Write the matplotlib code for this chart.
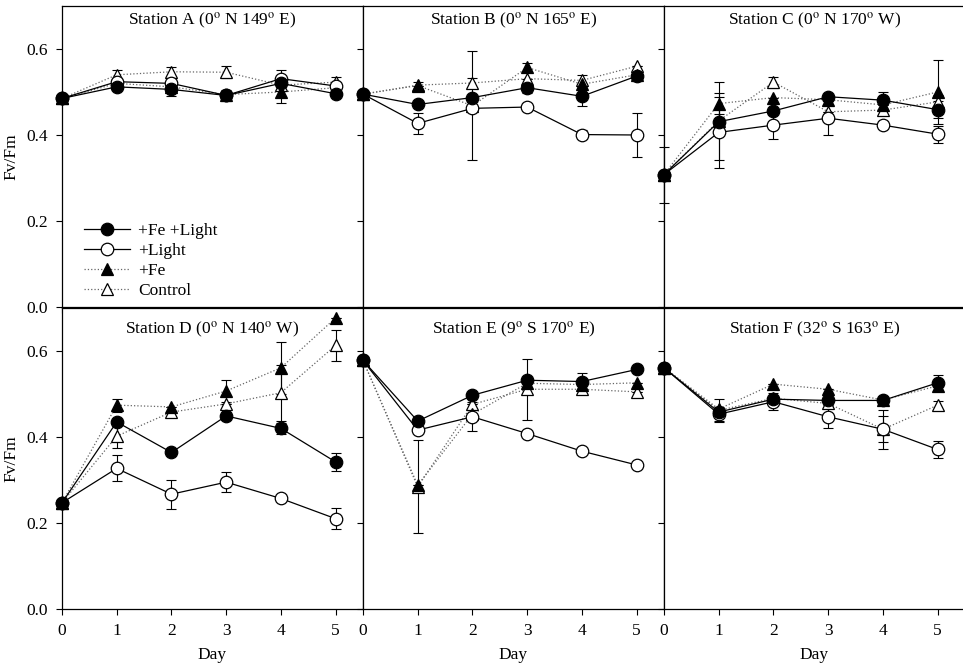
import matplotlib
matplotlib.use("Agg")
import matplotlib.pyplot as plt

plt.rcParams["font.family"] = ["Liberation Serif", "DejaVu Serif"]
plt.rcParams["mathtext.fontset"] = "stix"

days = [0, 1, 2, 3, 4, 5]
titles = [
    r"Station A (0$^{\rm o}$ N 149$^{\rm o}$ E)",
    r"Station B (0$^{\rm o}$ N 165$^{\rm o}$ E)",
    r"Station C (0$^{\rm o}$ N 170$^{\rm o}$ W)",
    r"Station D (0$^{\rm o}$ N 140$^{\rm o}$ W)",
    r"Station E (9$^{\rm o}$ S 170$^{\rm o}$ E)",
    r"Station F (32$^{\rm o}$ S 163$^{\rm o}$ E)",
]
labels = ["+Fe +Light", "+Light", "+Fe", "Control"]

# Fv/Fm per station (A..F), one row per station
fe_light = [
    [0.485, 0.512, 0.506, 0.492, 0.520, 0.496],
    [0.495, 0.471, 0.487, 0.510, 0.490, 0.537],
    [0.308, 0.431, 0.456, 0.489, 0.481, 0.459],
    [0.247, 0.435, 0.364, 0.449, 0.420, 0.342],
    [0.578, 0.437, 0.497, 0.532, 0.529, 0.557],
    [0.561, 0.458, 0.488, 0.485, 0.485, 0.526],
]
light = [
    [0.485, 0.524, 0.520, 0.492, 0.531, 0.514],
    [0.495, 0.427, 0.462, 0.465, 0.401, 0.400],
    [0.308, 0.406, 0.423, 0.439, 0.423, 0.402],
    [0.247, 0.327, 0.267, 0.295, 0.257, 0.210],
    [0.578, 0.416, 0.447, 0.408, 0.367, 0.335],
    [0.561, 0.453, 0.482, 0.447, 0.418, 0.371],
]
fe = [
    [0.485, 0.520, 0.512, 0.494, 0.500, 0.510],
    [0.495, 0.515, 0.468, 0.557, 0.518, 0.540],
    [0.308, 0.473, 0.487, 0.482, 0.470, 0.500],
    [0.247, 0.474, 0.470, 0.507, 0.561, 0.677],
    [0.578, 0.288, 0.453, 0.525, 0.522, 0.526],
    [0.561, 0.465, 0.523, 0.511, 0.486, 0.519],
]
control = [
    [0.485, 0.540, 0.547, 0.546, 0.516, 0.523],
    [0.495, 0.516, 0.521, 0.531, 0.527, 0.560],
    [0.308, 0.433, 0.523, 0.454, 0.458, 0.477],
    [0.247, 0.402, 0.458, 0.477, 0.503, 0.613],
    [0.578, 0.284, 0.476, 0.511, 0.511, 0.505],
    [0.561, 0.462, 0.490, 0.478, 0.418, 0.474],
]

# standard errors (0 = no visible bar)
fe_light_err = [
    [0, 0.005, 0.015, 0, 0, 0.005],
    [0, 0, 0, 0.012, 0.022, 0],
    [0, 0, 0, 0, 0.02, 0.02],
    [0, 0, 0, 0.01, 0.012, 0.02],
    [0, 0, 0, 0, 0.02, 0],
    [0, 0, 0, 0, 0.01, 0.018],
]
light_err = [
    [0, 0.005, 0.005, 0.012, 0.02, 0.01],
    [0, 0.025, 0, 0.01, 0.01, 0.051],
    [0, 0.083, 0.032, 0.04, 0.01, 0.02],
    [0, 0.03, 0.034, 0.023, 0, 0.025],
    [0, 0, 0.034, 0, 0, 0],
    [0, 0.016, 0.02, 0.027, 0.045, 0.02],
]
fe_err = [
    [0, 0, 0, 0, 0.025, 0],
    [0, 0, 0.127, 0.01, 0, 0],
    [0, 0.025, 0, 0, 0, 0.075],
    [0, 0.015, 0, 0.025, 0.06, 0],
    [0, 0, 0, 0, 0, 0],
    [0, 0, 0, 0, 0, 0],
]
control_err = [
    [0, 0.012, 0.01, 0.014, 0, 0.013],
    [0, 0.008, 0.012, 0, 0.012, 0],
    [0.065, 0.09, 0.013, 0, 0, 0.015],
    [0, 0.028, 0, 0, 0.065, 0.037],
    [0, 0.108, 0, 0.071, 0, 0],
    [0, 0.026, 0, 0, 0.03, 0.01],
]

W, H = 963, 667
fig = plt.figure(figsize=(W / 100, H / 100), dpi=100)

left, pw, ph = 62, 301, 301
tops = [6, 308]
fs = 12.5

styles = [
    # data, err, marker, face, linestyle, line color
    (control, control_err, "^", "white", ":", "#666666"),
    (fe, fe_err, "^", "black", ":", "#666666"),
    (light, light_err, "o", "white", "-", "black"),
    (fe_light, fe_light_err, "o", "black", "-", "black"),
]

axes = []
for i in range(6):
    row, col = divmod(i, 3)
    x0 = left + col * pw
    y0 = tops[row] + ph
    ax = fig.add_axes([x0 / W, 1 - y0 / H, pw / W, ph / H])
    axes.append(ax)

    for data, err, mk, face, ls, lc in styles:
        ax.errorbar(days, data[i], yerr=err[i], fmt="none", ecolor="black",
                    elinewidth=0.8, capsize=3.5, capthick=0.8, clip_on=False,
                    zorder=2)
        ax.plot(days, data[i], linestyle=ls, color=lc, linewidth=0.9,
                zorder=3)
        ax.plot(days, data[i], linestyle="none", marker=mk, markersize=9,
                markerfacecolor=face, markeredgecolor="black",
                markeredgewidth=0.9, clip_on=False, zorder=4)

    ax.set_xlim(0, 5.5)
    ax.set_ylim(0, 0.7)
    ax.set_xticks(days)
    ax.set_yticks([0.0, 0.2, 0.4, 0.6])
    ax.tick_params(direction="out", length=4, width=0.8, labelsize=fs,
                   pad=6)
    for s in ax.spines.values():
        s.set_linewidth(0.9)
    ty = 0.982 if row == 0 else 0.96
    ax.text(0.5, ty, titles[i], transform=ax.transAxes, ha="center",
            va="top", fontsize=fs)

    if row == 0:
        ax.tick_params(labelbottom=False)
    else:
        ax.set_xlabel("Day", fontsize=fs, labelpad=6)
    if col == 0:
        ax.set_ylabel("Fv/Fm", fontsize=fs, labelpad=5)
        ax.set_yticklabels(["0.0", "0.2", "0.4", "0.6"])
    else:
        ax.tick_params(labelleft=False)

# legend handles in panel A
handles = []
for data, err, mk, face, ls, lc in reversed(styles):
    h, = axes[0].plot([], [], linestyle=ls, color=lc, linewidth=0.9,
                      marker=mk, markersize=9, markerfacecolor=face,
                      markeredgecolor="black", markeredgewidth=0.9)
    handles.append(h)
axes[0].legend(handles, labels, loc="lower left", bbox_to_anchor=(0.04, -0.008),
               frameon=False, fontsize=fs, handlelength=2.6,
               labelspacing=0.22, handletextpad=0.5, borderaxespad=0.2)

fig.savefig("out.png", dpi=100)
